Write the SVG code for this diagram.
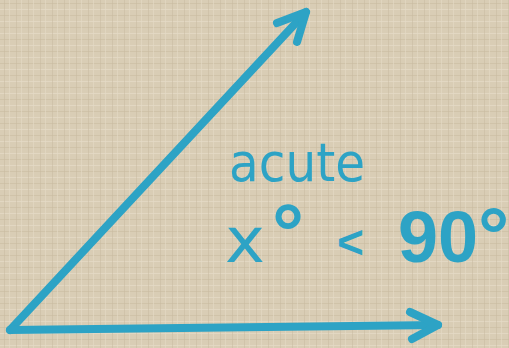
<svg xmlns="http://www.w3.org/2000/svg" width="509" height="348" viewBox="0 0 509 348">
<defs>
<style>
.ray{fill:none;stroke:#2da3c5;stroke-width:8;stroke-linecap:round;stroke-linejoin:round}
.hand{font-family:"DejaVu Sans",sans-serif;fill:#2da3c5}
.bold{font-family:"Liberation Sans",Arial,sans-serif;font-weight:bold;fill:#2da3c5}
</style>
<pattern id="weave" width="12" height="12" patternUnits="userSpaceOnUse">
<rect width="12" height="12" fill="#d9cdb5"/>
<rect x="0" y="3" width="12" height="1" fill="#c9bca2" opacity="0.6"/>
<rect x="0" y="9" width="12" height="1" fill="#e6dcc8" opacity="0.7"/>
<rect x="4" y="0" width="1" height="12" fill="#c7b9a0" opacity="0.5"/>
<rect x="9" y="0" width="1" height="12" fill="#e4dac6" opacity="0.6"/>
</pattern>
</defs>
<rect width="509" height="348" fill="url(#weave)"/>
<g id="connectors">
<polyline class="ray" points="10,330 306,12"/>
<polyline class="ray" points="277,23 306,12 297,42"/>
<polyline class="ray" points="10,330 438,325"/>
<polyline class="ray" points="410,312 438,325 412,339"/>
</g>
<g id="label-acute">
<text class="hand" x="229" y="181" font-size="54" textLength="136" lengthAdjust="spacingAndGlyphs">acute</text>
</g>
<g id="label-inequality">
<text class="hand" x="225" y="262" font-size="62" textLength="40" lengthAdjust="spacingAndGlyphs">x</text>
<text class="bold" x="272" y="260" font-size="80">°</text>
<text class="bold" x="337" y="258" font-size="46">&lt;</text>
<text class="bold" x="398" y="262" font-size="72">90<tspan font-size="78">°</tspan></text>
</g>
</svg>
